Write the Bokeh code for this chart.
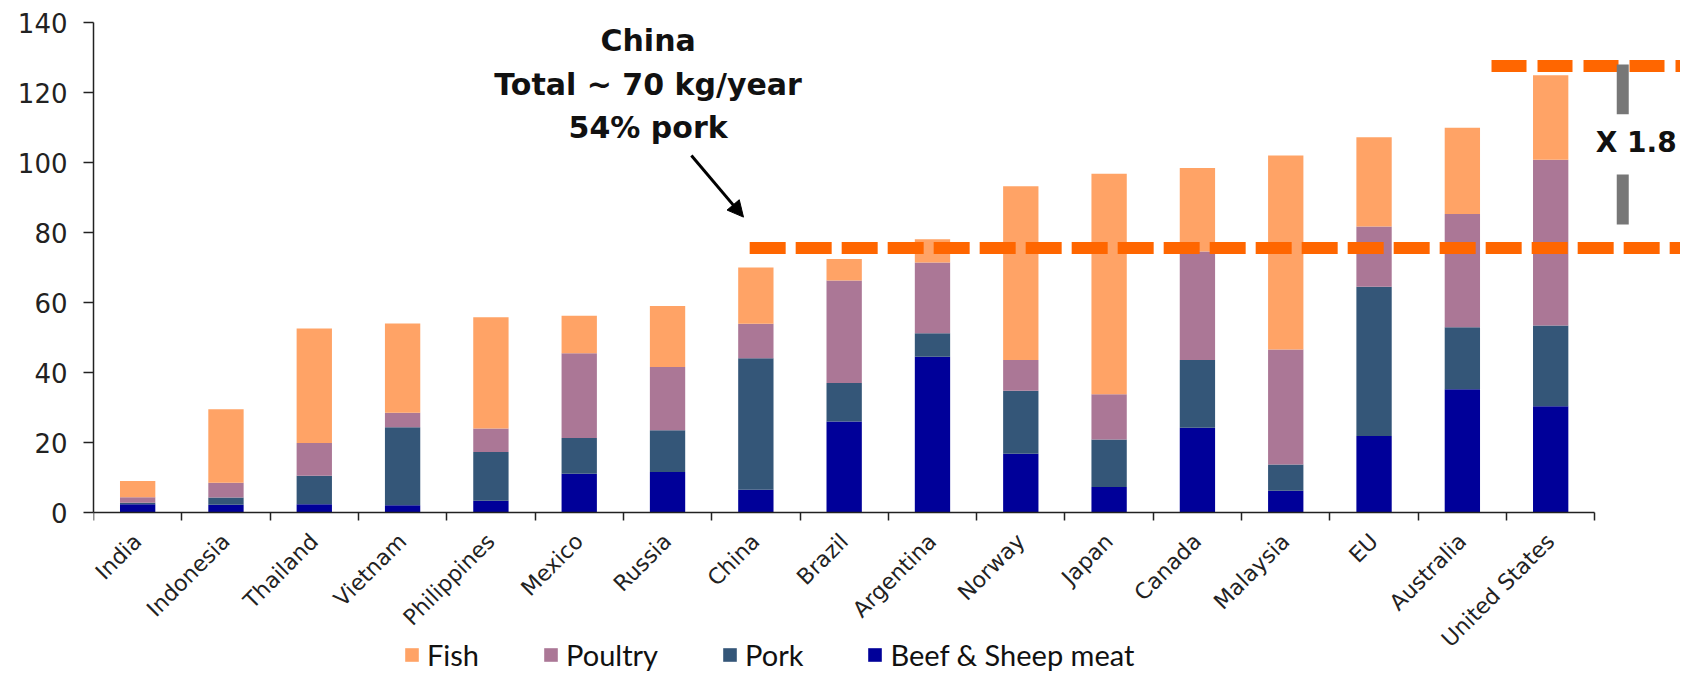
import numpy as np
from bokeh.plotting import figure
from bokeh.models import (Range1d, FixedTicker, Legend, LegendItem, Arrow,
                          NormalHead, ColumnDataSource)
from bokeh.core.properties import value
from bokeh.embed import file_html
from bokeh.resources import INLINE

# ---------------- data (kg per capita per year) ----------------
countries = ["India", "Indonesia", "Thailand", "Vietnam", "Philippines", "Mexico",
             "Russia", "China", "Brazil", "Argentina", "Norway", "Japan", "Canada",
             "Malaysia", "EU", "Australia", "United States"]
beef = [2.4, 2.2, 2.4, 2.1, 3.4, 11.1, 11.6, 6.5, 26.0, 44.5, 16.8, 7.3, 24.2, 6.2, 21.9, 35.2, 30.4]
pork = [0.4, 2.1, 8.1, 22.3, 13.9, 10.2, 11.9, 37.6, 11.0, 6.7, 18.0, 13.6, 19.4, 7.5, 42.6, 17.7, 23.0]
poultry = [1.6, 4.2, 9.4, 4.1, 6.7, 24.2, 18.1, 9.8, 29.3, 20.2, 8.8, 12.9, 31.0, 32.9, 17.2, 32.4, 47.4]
fish = [4.6, 21.0, 32.7, 25.5, 31.8, 10.7, 17.4, 16.1, 6.1, 6.7, 49.6, 63.0, 23.8, 55.4, 25.5, 24.6, 24.1]

series_names = ["Beef & Sheep meat", "Pork", "Poultry", "Fish"]
series_colors = ["#000099", "#345678", "#AB7796", "#FFA366"]

y_ticks = [0, 20, 40, 60, 80, 100, 120, 140]
china_level = 75.6      # lower dashed reference line
us_level = 127.6        # upper dashed reference line
annot_lines = ["China", "Total ~ 70 kg/year", "54% pork"]
ratio_label = "X 1.8"

# ---------------- figure ----------------
n = len(countries)
xs = list(range(n))
src = ColumnDataSource(dict(x=xs, beef=beef, pork=pork, poultry=poultry, fish=fish))

W, H = 1680, 672
p = figure(width=W, height=H, output_backend="svg", toolbar_location=None,
           x_range=Range1d(-0.5, 17.47), y_range=Range1d(-45.7, 140),
           min_border_left=93, min_border_right=0, min_border_top=22,
           min_border_bottom=0)
p.outline_line_color = None
p.xgrid.visible = False
p.ygrid.visible = False
p.background_fill_color = "white"

rs = p.vbar_stack(["beef", "pork", "poultry", "fish"], x="x", width=0.4,
                  color=series_colors, line_color=None, source=src)

# dashed reference lines
p.line(x=[6.93, 17.47], y=[china_level, china_level], line_color="#FF6600",
       line_width=12, line_dash="36 10")
p.line(x=[15.33, 17.47], y=[us_level, us_level], line_color="#FF6600",
       line_width=12, line_dash="35 11")

# grey bracket
p.segment(x0=[16.816, 16.816], y0=[128.0, 96.6], x1=[16.816, 16.816], y1=[113.8, 82.3],
          line_color="#777777", line_width=12, line_cap="butt")
p.text(x=[16.51], y=[105.6], text=[ratio_label], text_font=value("DejaVu Sans"),
       text_font_style="bold", text_font_size="28px", text_color="#111111",
       text_align="left", text_baseline="middle")

# China annotation
p.text(x=[5.78, 5.78, 5.78], y=[134.9, 122.2, 109.9], text=annot_lines,
       text_font=value("DejaVu Sans"), text_font_style="bold", text_font_size="30px",
       text_color="#111111", text_align="center", text_baseline="middle")
p.add_layout(Arrow(end=NormalHead(size=16, fill_color="black", line_color="black"),
                   x_start=6.27, y_start=102.0, x_end=6.86, y_end=84.4,
                   line_width=3, line_color="black"))

# axes
ax = p.xaxis[0]
ax.fixed_location = 0
ax.ticker = FixedTicker(ticks=xs, minor_ticks=[i - 0.5 for i in range(n + 1)])
ax.major_label_overrides = {i: c for i, c in enumerate(countries)}
ax.major_label_orientation = np.pi / 4
ax.bounds = (-0.5, n - 0.5)
ax.major_tick_line_color = None
ax.major_tick_out = 8
ax.minor_tick_out = 8
ax.minor_tick_in = 0
ax.minor_tick_line_color = "#222222"
ax.minor_tick_line_width = 1.5
ax.axis_line_color = "#222222"
ax.axis_line_width = 1.5
ax.major_label_text_font = "DejaVu Sans"
ax.major_label_text_font_size = "22px"
ax.major_label_text_color = "#222222"
ax.major_label_standoff = 17

ay = p.yaxis[0]
ay.ticker = FixedTicker(ticks=y_ticks)
ay.bounds = (0, 140)
ay.minor_tick_line_color = None
ay.major_tick_out = 10
ay.major_tick_in = 0
ay.major_tick_line_color = "#222222"
ay.major_tick_line_width = 1.5
ay.axis_line_color = "#222222"
ay.axis_line_width = 1.5
ay.major_label_text_font = "DejaVu Sans"
ay.major_label_text_font_size = "26px"
ay.major_label_text_color = "#222222"
ay.major_label_standoff = 16

# legend
legend = Legend(items=[LegendItem(label=series_names[3], renderers=[rs[3]]),
                       LegendItem(label=series_names[2], renderers=[rs[2]]),
                       LegendItem(label=series_names[1], renderers=[rs[1]]),
                       LegendItem(label=series_names[0], renderers=[rs[0]])],
                orientation="horizontal", location=(310, 0),
                glyph_width=17, glyph_height=17, spacing=63, label_standoff=7,
                label_text_font="Lato", label_text_font_size="29px",
                label_text_color="#111111", padding=0, margin=0,
                border_line_color=None, background_fill_alpha=0)
p.add_layout(legend)

open("out.html", "w").write(file_html(p, INLINE))
